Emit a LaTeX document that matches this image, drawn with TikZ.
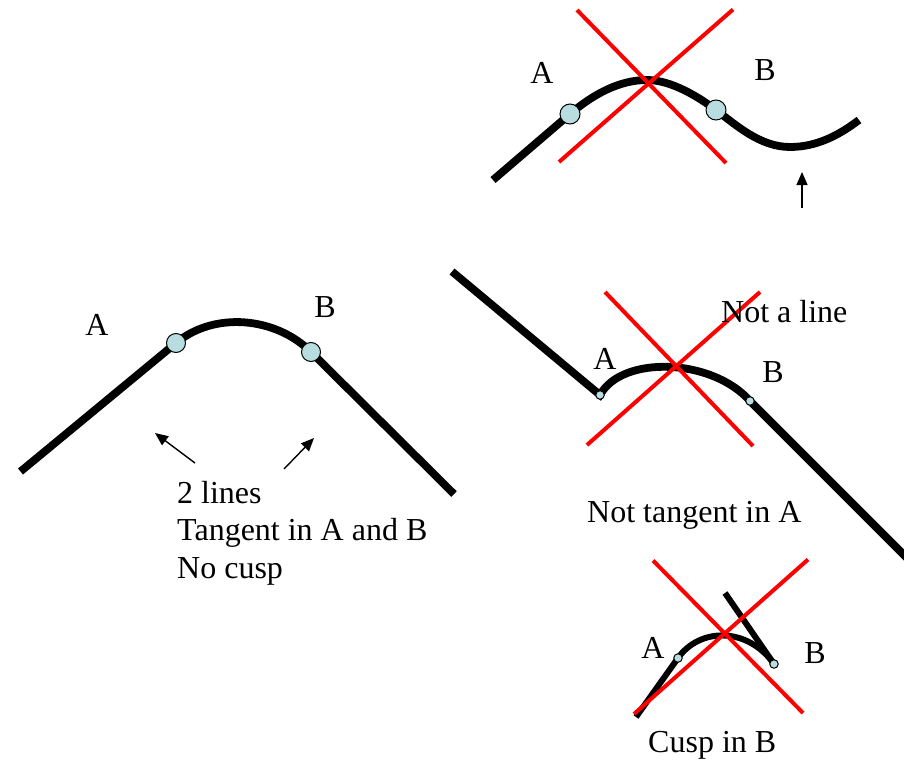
\documentclass[tikz,border=0pt]{standalone}
\usepackage{fontspec}
\setmainfont{Liberation Serif}
\usetikzlibrary{arrows.meta}
\definecolor{dotfill}{RGB}{183,221,224}
\begin{document}
\begin{tikzpicture}[x=1pt,y=-1pt,
  curve/.style={line width=7.8pt},
  thincurve/.style={line width=6pt},
  cross/.style={red, line width=4pt},
  dot/.style={circle, draw=black, line width=1pt, fill=dotfill, minimum size=19pt, inner sep=0pt},
  smalldot/.style={dot, minimum size=8.5pt},
  lbl/.style={font=\fontsize{32}{38}\selectfont, inner sep=0pt},
  pointer/.style={line width=1.4pt, -{Triangle[length=13pt,width=11pt]}}]
\useasboundingbox (0,0) rectangle (904,760);
\clip (0,0) rectangle (904,760);

% ---------- left figure ----------
\coordinate (L0) at (20.5,471.5);
\coordinate (LA) at (176,343);
\coordinate (LB) at (311,352);
\coordinate (L1) at (454,494);
\draw[curve] (L0) -- (LA) .. controls (214.5,311) and (276,317) .. (LB) -- (L1);
\node[dot] (lA) at (LA) {};
\node[dot] (lB) at (LB) {};
\node[lbl] (lAl) at (97,325) {A};
\node[lbl] (lBl) at (325,307) {B};
\coordinate (p1s) at (195,463);
\coordinate (p1e) at (155,433);
\coordinate (p2s) at (284,469);
\coordinate (p2e) at (314,438);
\draw[pointer] (p1s) -- (p1e);
\draw[pointer] (p2s) -- (p2e);
\node[lbl, anchor=base west] (t1) at (177,503) {2 lines};
\node[lbl, anchor=base west] (t2) at (177,540.5) {Tangent in A and B};
\node[lbl, anchor=base west] (t3) at (177,578) {No cusp};

% ---------- top figure ----------
\coordinate (T0) at (493,180);
\coordinate (TA) at (570,114);
\coordinate (TP) at (647,80);
\coordinate (TB) at (716,110);
\coordinate (TT) at (790,147);
\coordinate (TE) at (859,120);
\draw[curve] (T0) -- (TA) .. controls (593,94.5) and (619,80) .. (TP)
  .. controls (672,80) and (700,98) .. (TB)
  .. controls (736,125) and (760,147) .. (TT)
  .. controls (820,147) and (843,132) .. (TE);
\node[dot, minimum size=20pt] (tA) at (TA) {};
\node[dot, minimum size=20pt] (tB) at (TB) {};
\coordinate (tx1a) at (577,10);
\coordinate (tx1b) at (726,163);
\coordinate (tx2a) at (733,9.5);
\coordinate (tx2b) at (559,162);
\draw[cross] (tx1a) -- (tx1b);
\draw[cross] (tx2a) -- (tx2b);
\node[lbl] (tAl) at (542,73) {A};
\node[lbl] (tBl) at (765,70) {B};
\coordinate (ps) at (802,208);
\coordinate (pe) at (802,172);
\draw[pointer] (ps) -- (pe);

% ---------- middle figure ----------
\coordinate (M0) at (452,271.5);
\coordinate (MA) at (600,395);
\coordinate (MB) at (750,401);
\coordinate (M1) at (915,566);
\draw[curve] (M0) -- (MA) .. controls (622,355) and (712,358) .. (MB) -- (M1);
\node[smalldot] (mA) at (MA) {};
\node[smalldot] (mB) at (MB) {};
\coordinate (mx1a) at (605,292);
\coordinate (mx1b) at (753,446);
\coordinate (mx2a) at (760,292);
\coordinate (mx2b) at (587,445);
\draw[cross] (mx1a) -- (mx1b);
\draw[cross] (mx2a) -- (mx2b);
\node[lbl, anchor=base west] (nal) at (721,322) {Not a line};
\node[lbl] (mAl) at (605,359) {A};
\node[lbl] (mBl) at (773,372) {B};
\node[lbl, anchor=base west] (ntl) at (587,522) {Not tangent in A};

% ---------- bottom figure ----------
\coordinate (B0) at (636,717);
\coordinate (BA) at (678,658);
\coordinate (BB) at (774,664);
\coordinate (B1) at (725,593);
\draw[thincurve] (B0) -- (BA) .. controls (700,627) and (748,627) .. (BB);
\draw[thincurve] (BB) -- (B1);
\node[smalldot] (bA) at (BA) {};
\node[smalldot] (bB) at (BB) {};
\coordinate (bx1a) at (653,560.5);
\coordinate (bx1b) at (803,713);
\coordinate (bx2a) at (808,559.5);
\coordinate (bx2b) at (634,714);
\draw[cross] (bx1a) -- (bx1b);
\draw[cross] (bx2a) -- (bx2b);
\node[lbl] (bAl) at (653,648) {A};
\node[lbl] (bBl) at (815,653) {B};
\node[lbl, anchor=base west] (cusp) at (648,752) {Cusp in B};
\end{tikzpicture}
\end{document}
